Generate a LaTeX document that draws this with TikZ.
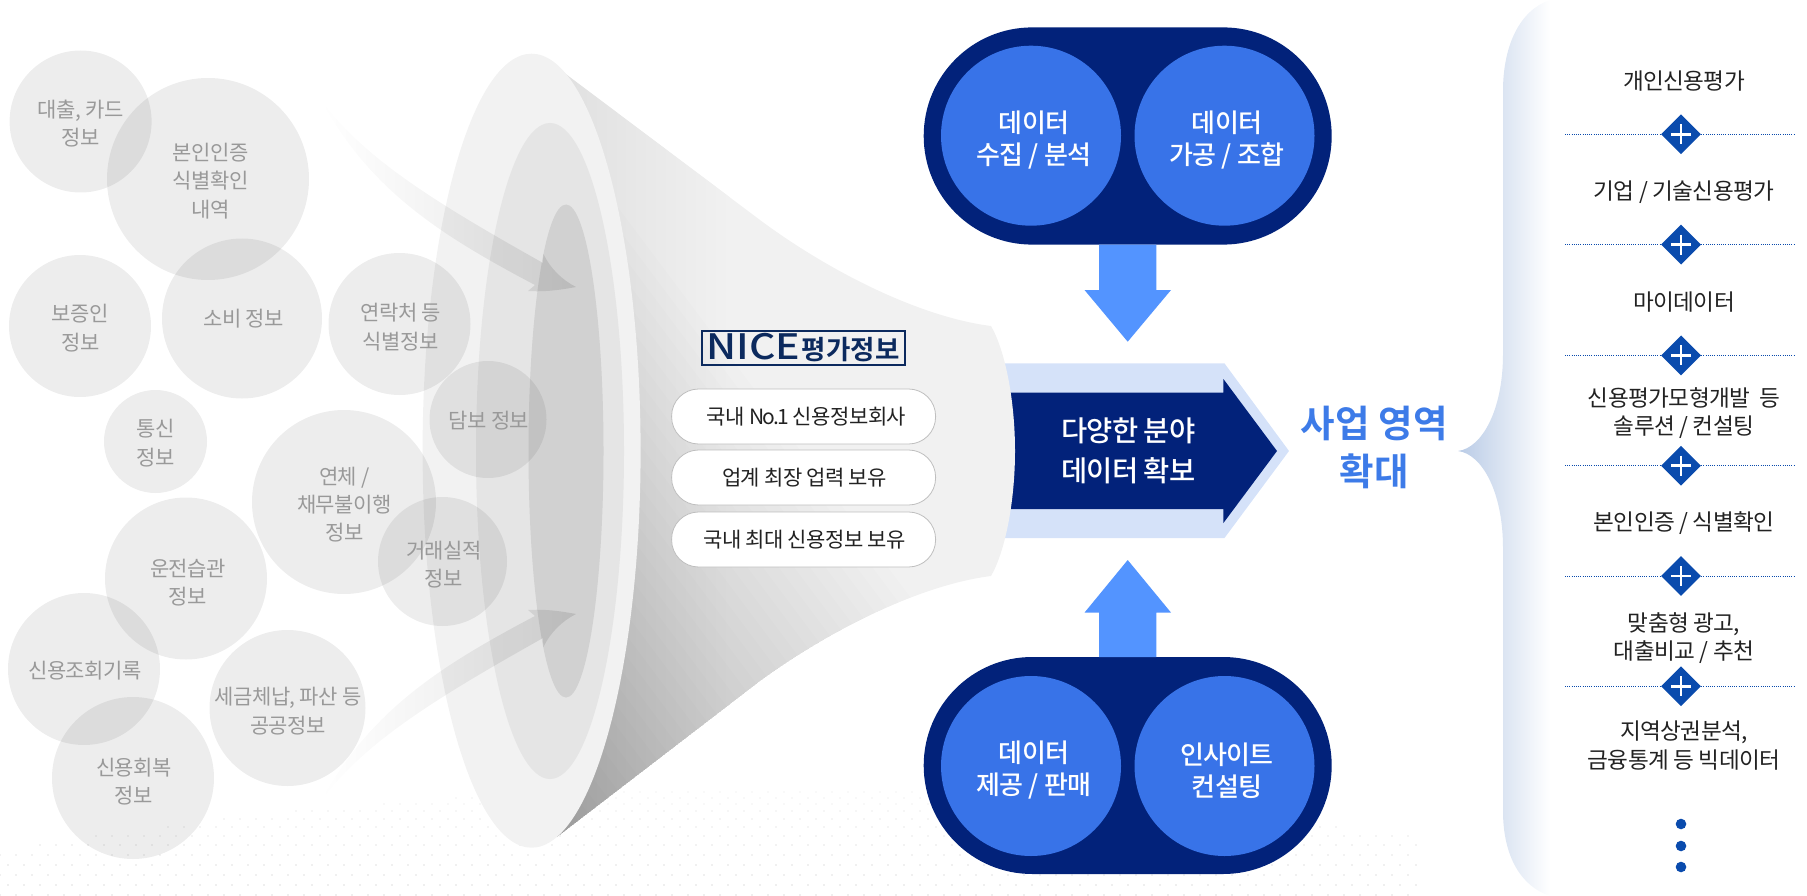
\documentclass[tikz,border=0pt]{standalone}
\usepackage{fontspec}
\setmainfont{Noto Sans CJK KR}
\newfontfamily\krt[LetterSpace=-2.5]{Noto Sans CJK KR}
\newfontfamily\krn[LetterSpace=-9]{Noto Sans CJK KR}
\newfontfamily\krb[LetterSpace=-3]{Noto Sans CJK KR Medium}
\newfontfamily\krh[LetterSpace=1]{Noto Sans CJK KR Bold}
\newfontfamily\krl{Noto Sans CJK KR Medium}
\usetikzlibrary{shapes.geometric,fadings}
\definecolor{navy}{HTML}{02227A}
\definecolor{mblue}{HTML}{3873E8}
\definecolor{arblue}{HTML}{5394FF}
\definecolor{lblue}{HTML}{D5E2F9}
\definecolor{tblue}{HTML}{3D7BE8}
\definecolor{dblue}{HTML}{0A4BAD}
\definecolor{logoblue}{HTML}{0C2A5E}
\definecolor{gtext}{HTML}{999999}
\definecolor{ktext}{HTML}{222222}
\definecolor{bracetip}{HTML}{B9CBE6}
\tikzfading[name=fadeR,left color=transparent!100,middle color=transparent!15,right color=transparent!0]
\tikzset{
  gcirc/.style={circle,inner sep=0pt,fill=black,fill opacity=.07},
  gtxt/.style={inner sep=0pt,text=gtext,align=center,font=\krt\fontsize{21}{28.3}\selectfont},
  bcirc/.style={circle,inner sep=0pt,fill=mblue,minimum size=180pt},
  btxt/.style={inner sep=0pt,text=white,align=center,font=\krb\fontsize{26}{32}\selectfont},
  infopill/.style={rounded corners=27pt,draw=black!25,line width=.8pt,fill=white,minimum width=264pt,minimum height=55pt,inner sep=0pt,text=ktext,font=\krt\fontsize{21}{26}\selectfont},
  item/.style={text=ktext,align=center,font=\krt\fontsize{22.6}{28.5}\selectfont},
  plusd/.style={diamond,aspect=1,fill=dblue,minimum size=40pt,inner sep=0pt},
  dotl/.style={dblue,line width=.8pt,dash pattern=on 1pt off 1.2pt},
}
\begin{document}
\begin{tikzpicture}[x=1pt,y=-1pt]
\useasboundingbox (0,0) rectangle (1807,896);
% floor dots
\foreach \yy/\oo/\cc in {895/0/11,885/8/11,875/0/10,865/8/10,855/0/9,845/8/9,836/0/8,827/8/8,819/0/7,811/8/6,804/0/5,798/8/5,792/0/4}{
  \foreach \ii in {0,...,89}{
    \pgfmathsetmacro\xx{\ii*16+\oo}
    \pgfmathparse{(\yy>788+1.1*((\xx-750)/100)^2 && \xx<1418)?1:0}
    \ifnum\pgfmathresult=1 \fill[black!\cc] (\xx,\yy) ellipse (1.2pt and .8pt);\fi
  }
}
% central arrow
\fill[lblue] (990,363.4) -- (1224.5,363.4) -- (1289,451) -- (1224.5,538) -- (990,538) -- cycle;
\fill[navy] (990,392.6) -- (1223.4,392.6) -- (1223.4,379) -- (1277,451) -- (1223.4,523) -- (1223.4,509) -- (990,509) -- cycle;
% funnel
\def\funnelpath{(563,72) -- (760,220) .. controls (830,272) and (920,317) .. (991,326) .. controls (1005,350) and (1015,400) .. (1015,451) .. controls (1015,502) and (1005,552) .. (991,576) .. controls (920,585) and (830,630) .. (760,681) -- (557,837) -- cycle}
\begin{scope}
\clip \funnelpath;
\fill[black!5.5] (540,40) rectangle (1030,860);
\shade[left color=black!13,right color=black!5.5] (540,40) rectangle (730,860);
\foreach \k in {0,...,32}{
  \pgfmathsetmacro\ss{370-\k*12.5}
  \pgfmathsetmacro\px{\ss*.8}
  \pgfmathsetmacro\py{-\ss*.6}
  \fill[black,fill opacity=.009] (\px+.6*1500,\py+.8*1500) -- (\px-.6*1500,\py-.8*1500) -- (\px-.6*1500-.8*1500,\py-.8*1500+.6*1500) -- (\px+.6*1500-.8*1500,\py+.8*1500+.6*1500) -- cycle;
}
\end{scope}
\fill[black!5] (531.6,450.7) ellipse (109pt and 397pt);
\fill[black!10] (550,451) ellipse (74pt and 328pt);
\fill[black!18] (566,451) ellipse (37.5pt and 246.5pt);
% source circles
\node[gcirc,minimum size=142pt] (c1) at (80.6,121.5) {};
\node[gcirc,minimum size=202pt] (c2) at (208,179) {};
\node[gcirc,minimum size=160pt] (c3) at (242,318.5) {};
\node[gcirc,minimum size=142pt] (c4) at (80,326) {};
\node[gcirc,minimum size=142pt] (c5) at (399.5,324) {};
\node[gcirc,minimum size=117pt] (c6) at (488,419.5) {};
\node[gcirc,minimum size=103pt] (c7) at (155.5,441.5) {};
\node[gcirc,minimum size=184pt] (c8) at (344,502) {};
\node[gcirc,minimum size=129pt] (c9) at (442.5,561.5) {};
\node[gcirc,minimum size=162pt] (c10) at (186,578.5) {};
\node[gcirc,minimum size=152pt] (c11) at (84,669) {};
\node[gcirc,minimum size=156pt] (c12) at (287.5,708) {};
\node[gcirc,minimum size=162pt] (c13) at (133,778) {};
\node[gtxt] (t1) at (80.7,123.7) {대출, 카드\\정보};
\node[gtxt] (t2) at (210.5,181) {본인인증\\식별확인\\내역};
\node[gtxt] (t3) at (243.4,319) {소비 정보};
\node[gtxt] (t4) at (80.4,328) {보증인\\정보};
\node[gtxt] (t5) at (400.7,327) {연락처 등\\식별정보};
\node[gtxt] (t6) at (489,421) {담보 정보};
\node[gtxt] (t7) at (156,443) {통신\\정보};
\node[gtxt] (t8) at (344.4,504.5) {연체 /\\채무불이행\\정보};
\node[gtxt] (t9) at (444,564.3) {거래실적\\정보};
\node[gtxt] (t10) at (188,582.5) {운전습관\\정보};
\node[gtxt] (t11) at (85,670.6) {신용조회기록};
\node[gtxt] (t12) at (288,711) {세금체납, 파산 등\\공공정보};
\node[gtxt] (t13) at (134,781.3) {신용회복\\정보};
% curved inflow arrows
\fill[black,fill opacity=.1,path fading=fadeR] (321,100) .. controls (365,160) and (440,205) .. (543,263) -- (543.4,254) .. controls (550,268) and (562,280) .. (576,287) .. controls (560,290) and (545,292) .. (528,291) -- (535,285) .. controls (440,235) and (370,190) .. (321,100) -- cycle;
\fill[black,fill opacity=.1,path fading=fadeR] (321,801) .. controls (365,741) and (440,696) .. (543,638) -- (543.4,647) .. controls (550,633) and (562,621) .. (576,614) .. controls (560,611) and (545,609) .. (528,610) -- (535,616) .. controls (440,666) and (370,711) .. (321,801) -- cycle;
% logo and pills
\node[draw=logoblue,line width=2.2pt,minimum width=203pt,minimum height=34pt,inner sep=0pt,text=logoblue] (logo) at (803.3,348) {\raisebox{-.5pt}{\krl\fontsize{35}{36}\selectfont\scalebox{1.17}[1]{NICE}\hspace{1pt}\krh\fontsize{26.5}{30}\selectfont 평가정보}};
\node[infopill] (p1) at (803.6,416.5) {\hspace{6pt}\raisebox{0pt}{국내 {\krn No.1} 신용정보회사}};
\node[infopill] (p2) at (803.6,477.5) {\hspace{2pt}\raisebox{-2pt}{업계 최장 업력 보유}};
\node[infopill] (p3) at (803.6,539.5) {\hspace{2pt}\raisebox{-2pt}{국내 최대 신용정보 보유}};
\node[text=white,align=center,font=\krb\fontsize{28.5}{39.5}\selectfont] (big) at (1128.5,451) {다양한 분야\\데이터 확보};
% top and bottom capsules
\fill[navy,rounded corners=108.5pt] (923.7,27.4) rectangle (1331.7,244.6);
\fill[navy,rounded corners=108.5pt] (923.7,657) rectangle (1331.7,874);
\node[bcirc] (b1) at (1031,135.7) {};
\node[bcirc] (b2) at (1224.5,135.7) {};
\node[bcirc] (b3) at (1031,766) {};
\node[bcirc] (b4) at (1224.5,766) {};
\node[btxt] (bt1) at (1034,140) {데이터\\수집 / 분석};
\node[btxt] (bt2) at (1227,140) {데이터\\가공 / 조합};
\node[btxt] (bt3) at (1034,770.5) {데이터\\제공 / 판매};
\node[btxt] (bt4) at (1227,770.5) {인사이트\\컨설팅};
\fill[arblue] (1099,244.6) -- (1156.4,244.6) -- (1156.4,290) -- (1171,290) -- (1127.7,341.7) -- (1084.5,290) -- (1099,290) -- cycle;
\fill[arblue] (1099,657) -- (1156.4,657) -- (1156.4,612.6) -- (1171,612.6) -- (1127.7,560) -- (1084.5,612.6) -- (1099,612.6) -- cycle;
\node[text=tblue,align=center,font=\krh\fontsize{37.5}{48}\selectfont] (biz) at (1374,447) {사업 영역\\확대};
% brace
\shade[left color=bracetip,right color=white] (1458,451) .. controls (1482,448) and (1503,410) .. (1503,354) -- (1503,91) .. controls (1503,45) and (1520,10) .. (1550,0) -- (1550,896) .. controls (1520,886) and (1503,855) .. (1503,811) -- (1503,548) .. controls (1503,492) and (1482,454) .. (1458,451) -- cycle;
% items
\node[item] (i1) at (1684,81) {개인신용평가};
\node[item] (i2) at (1684,192.4) {기업 / 기술신용평가};
\node[item] (i3) at (1684,302) {마이데이터};
\node[item] (i4) at (1684,413) {신용평가모형개발\ \ 등\\솔루션 / 컨설팅};
\node[item] (i5) at (1684,523.5) {본인인증 / 식별확인};
\node[item] (i6) at (1684,638) {맞춤형 광고,\\대출비교 / 추천};
\node[item] (i7) at (1684,745.5) {지역상권분석,\\금융통계 등 빅데이터};
\foreach \n/\yy in {1/134.3,2/244.6,3/355.4,4/465.7,5/576,6/686.3}{
  \coordinate (l\n) at (1565,\yy);
  \coordinate (r\n) at (1795,\yy);
  \node[plusd] (d\n) at (1681,\yy) {};
  \draw[dotl] (l\n) -- (d\n) -- (r\n);
  \draw[white,line width=2.6pt] (1671,\yy) -- (1691,\yy);
  \draw[white,line width=2.6pt] (1681,\yy-10) -- (1681,\yy+10);
}
\foreach \yy in {824,846,867}{\fill[dblue] (1681,\yy) circle (5.3pt);}
\end{tikzpicture}
\end{document}
